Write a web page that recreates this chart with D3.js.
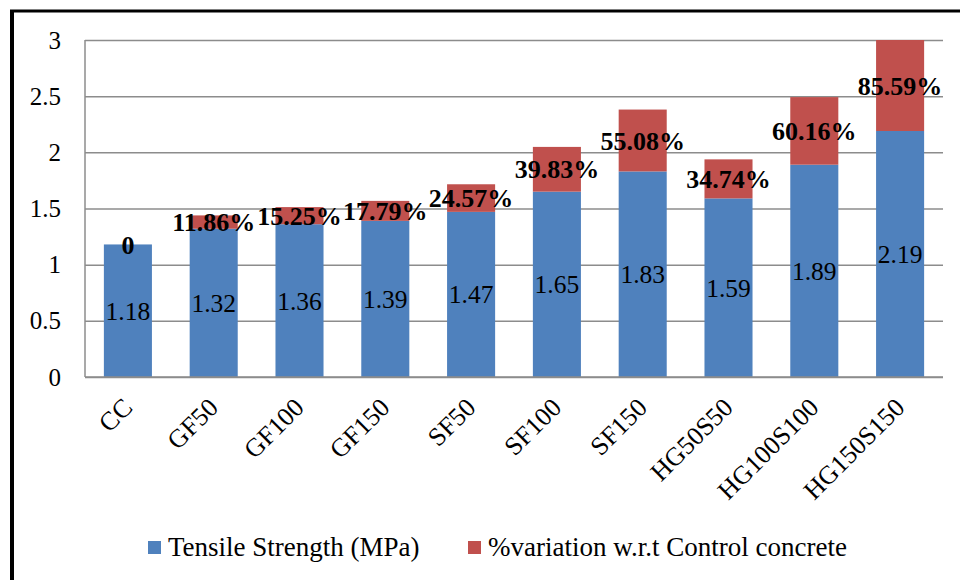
<!DOCTYPE html>
<html>
<head>
<meta charset="utf-8">
<script src="https://cdn.jsdelivr.net/npm/d3@7"></script>
<style>
  body { margin: 0; background: #fff; }
</style>
</head>
<body>
<div id="chart"></div>
<script>
// Data
const categories = ["CC", "GF50", "GF100", "GF150", "SF50", "SF100", "SF150", "HG50S50", "HG100S100", "HG150S150"];
const tensile = [1.18, 1.32, 1.36, 1.39, 1.47, 1.65, 1.83, 1.59, 1.89, 2.19];
const variation = [0, 11.86, 15.25, 17.79, 24.57, 39.83, 55.08, 34.74, 60.16, 85.59];
const yTicks = [0, 0.5, 1, 1.5, 2, 2.5, 3];
const seriesNames = ["Tensile Strength (MPa)", "%variation w.r.t Control concrete"];

const FONT = "'Times New Roman', 'Liberation Serif', 'DejaVu Serif', serif";
const W = 960, H = 580;
const plot = { left: 85, right: 943, top: 40, bottom: 377 };

const svg = d3.select("#chart")
  .append("svg")
  .attr("width", W)
  .attr("height", H)
  .attr("font-family", FONT);

// Outer frame (left and top edges only visible)
svg.append("line")
  .attr("x1", 12).attr("x2", 12)
  .attr("y1", 10).attr("y2", H)
  .attr("stroke", "#000").attr("stroke-width", 4);
svg.append("line")
  .attr("x1", 10).attr("x2", W)
  .attr("y1", 11).attr("y2", 11)
  .attr("stroke", "#000").attr("stroke-width", 3);

// Scales
const x = d3.scaleBand()
  .domain(categories)
  .range([plot.left, plot.right])
  .paddingInner(0.44)
  .paddingOuter(0.22);

const y = d3.scaleLinear()
  .domain([0, 3])
  .range([plot.bottom, plot.top]);

// Gridlines + y axis
const yAxis = svg.append("g")
  .attr("transform", `translate(${plot.left},0)`)
  .call(d3.axisLeft(y).tickValues(yTicks).tickSize(-(plot.right - plot.left)).tickPadding(24).tickFormat(d3.format("")))
  .attr("font-family", FONT)
  .attr("font-size", 25);
yAxis.select(".domain").remove();
yAxis.selectAll(".tick line").attr("stroke", "#8c8c8c").attr("stroke-width", 1.5);
yAxis.selectAll(".tick text").attr("fill", "#000");

// Axis lines
svg.append("line")
  .attr("x1", plot.left).attr("x2", plot.left)
  .attr("y1", plot.top).attr("y2", plot.bottom)
  .attr("stroke", "#8c8c8c").attr("stroke-width", 1.5);

// Clip for bars that exceed the axis max
svg.append("clipPath").attr("id", "plot-clip")
  .append("rect")
  .attr("x", plot.left).attr("y", plot.top)
  .attr("width", plot.right - plot.left)
  .attr("height", plot.bottom - plot.top);

const bars = svg.append("g").attr("clip-path", "url(#plot-clip)");

// Blue bars
bars.selectAll(".blue")
  .data(categories)
  .enter()
  .append("rect")
  .attr("class", "blue")
  .attr("x", d => x(d))
  .attr("y", (d, i) => y(tensile[i]))
  .attr("width", x.bandwidth())
  .attr("height", (d, i) => y(0) - y(tensile[i]))
  .attr("fill", "#4f81bd");

// Red stacked bars (variation in % -> fraction stacked on top)
bars.selectAll(".red")
  .data(categories)
  .enter()
  .append("rect")
  .attr("class", "red")
  .attr("x", d => x(d))
  .attr("y", (d, i) => y(tensile[i] + variation[i] / 100))
  .attr("width", x.bandwidth())
  .attr("height", (d, i) => y(tensile[i]) - y(tensile[i] + variation[i] / 100))
  .attr("fill", "#c0504d");

// Bottom axis line
svg.append("line")
  .attr("x1", plot.left).attr("x2", plot.right)
  .attr("y1", plot.bottom).attr("y2", plot.bottom)
  .attr("stroke", "#8c8c8c").attr("stroke-width", 1.5);

// Value labels in blue segments
svg.selectAll(".val")
  .data(categories)
  .enter()
  .append("text")
  .attr("x", d => x(d) + x.bandwidth() / 2)
  .attr("y", (d, i) => (y(0) + y(tensile[i])) / 2)
  .attr("dy", "0.35em")
  .attr("text-anchor", "middle")
  .attr("font-size", 25.5)
  .text((d, i) => tensile[i].toFixed(2));

// Percent labels centered in the visible red segments
svg.selectAll(".pct")
  .data(categories)
  .enter()
  .append("text")
  .attr("x", d => x(d) + x.bandwidth() / 2)
  .attr("y", (d, i) => {
    const top = Math.max(y(tensile[i] + variation[i] / 100), plot.top);
    return (top + y(tensile[i])) / 2;
  })
  .attr("dy", "0.35em")
  .attr("text-anchor", "middle")
  .attr("font-size", 26)
  .attr("font-weight", "bold")
  .text((d, i) => variation[i] === 0 ? "0" : variation[i].toFixed(2) + "%");

// Category labels, rotated
svg.selectAll(".cat")
  .data(categories)
  .enter()
  .append("text")
  .attr("transform", d => `translate(${x(d) + x.bandwidth() / 2 + 6},409) rotate(-45)`)
  .attr("text-anchor", "end")
  .attr("font-size", 26)
  .text(d => d);

// Legend
const legendColors = ["#4f81bd", "#c0504d"];
const legendX = [148, 468];
seriesNames.forEach((name, i) => {
  const g = svg.append("g").attr("transform", `translate(${legendX[i]},541)`);
  g.append("rect")
    .attr("width", 13).attr("height", 13)
    .attr("fill", legendColors[i]);
  g.append("text")
    .attr("x", 20)
    .attr("y", 15)
    .attr("font-size", 27)
    .text(name);
});
</script>
</body>
</html>
